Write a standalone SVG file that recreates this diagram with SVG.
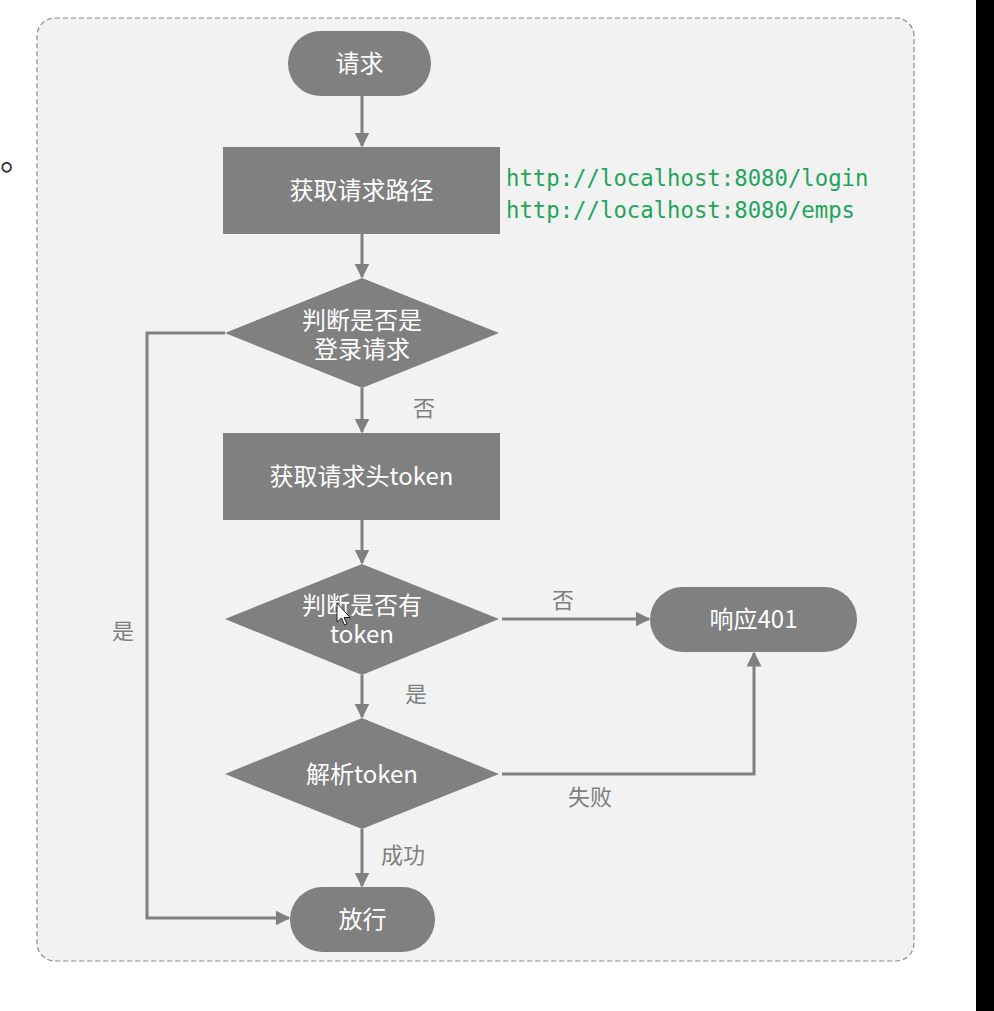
<svg xmlns="http://www.w3.org/2000/svg" width="994" height="1011" viewBox="0 0 994 1011">
<defs>
<style>
.node{fill:#808080}
.nt{fill:#ffffff;font-family:"Noto Sans CJK SC","Noto Sans",sans-serif;font-size:24px;text-anchor:middle;dominant-baseline:central}
.lbl{fill:#7f7f7f;font-family:"Noto Sans CJK SC","Noto Sans",sans-serif;font-size:22px;text-anchor:middle;dominant-baseline:central}
.url{fill:#1fa55a;font-family:"DejaVu Sans Mono","Liberation Mono",monospace;font-size:22.3px}
.edge{fill:none;stroke:#808080;stroke-width:3}
</style>
<marker id="arr" viewBox="0 0 10 10" refX="9" refY="5" markerWidth="5" markerHeight="5" markerUnits="strokeWidth" orient="auto">
<path d="M0,0 L10,5 L0,10 z" fill="#808080"/>
</marker>
</defs>
<rect x="0" y="0" width="994" height="1011" fill="#ffffff"/>
<rect x="976" y="0" width="18" height="1011" fill="#000000"/>
<text x="0" y="170" style="font-family:'Noto Sans CJK SC',sans-serif;font-size:34px;fill:#333">。</text>
<rect x="37" y="18" width="877" height="943" rx="18" ry="18" fill="#f2f2f2" stroke="#8a8a8a" stroke-width="1.2" stroke-dasharray="5,3"/>

<g id="connectors">
<line class="edge" x1="362" y1="96" x2="362" y2="146" marker-end="url(#arr)"/>
<line class="edge" x1="362" y1="234" x2="362" y2="277" marker-end="url(#arr)"/>
<line class="edge" x1="362" y1="388" x2="362" y2="432" marker-end="url(#arr)"/>
<line class="edge" x1="362" y1="520" x2="362" y2="563" marker-end="url(#arr)"/>
<line class="edge" x1="362" y1="675" x2="362" y2="717" marker-end="url(#arr)"/>
<line class="edge" x1="362" y1="829" x2="362" y2="886" marker-end="url(#arr)"/>
<polyline class="edge" points="225,333 147,333 147,918 289,918" marker-end="url(#arr)"/>
<line class="edge" x1="502" y1="619" x2="649" y2="619" marker-end="url(#arr)"/>
<polyline class="edge" points="502,774 754,774 754,653" marker-end="url(#arr)"/>
<text class="lbl" x="424" y="406">否</text>
<text class="lbl" x="123" y="629">是</text>
<text class="lbl" x="563" y="598">否</text>
<text class="lbl" x="416" y="692">是</text>
<text class="lbl" x="590" y="795">失败</text>
<text class="lbl" x="403" y="853">成功</text>
</g>

<g id="n-request">
<rect class="node" x="288" y="31" width="143" height="65" rx="32.5"/>
<text class="nt" x="359.5" y="61.5">请求</text>
</g>
<g id="n-path">
<rect class="node" x="223" y="147" width="277" height="87"/>
<text class="nt" x="361.5" y="188">获取请求路径</text>
</g>
<g id="n-urls">
<text class="url" x="506" y="186">http://localhost:8080/login</text>
<text class="url" x="506" y="218">http://localhost:8080/emps</text>
</g>
<g id="n-islogin">
<polygon class="node" points="362,278 499,333 362,388 225,333"/>
<text class="nt" x="362" y="318"><tspan x="362" y="318">判断是否是</tspan><tspan x="362" y="347">登录请求</tspan></text>
</g>
<g id="n-gettoken">
<rect class="node" x="223" y="433" width="277" height="87"/>
<text class="nt" x="361.5" y="474">获取请求头token</text>
</g>
<g id="n-hastoken">
<polygon class="node" points="362,564 499,619 362,675 225,619"/>
<text class="nt" x="362" y="603"><tspan x="362" y="603">判断是否有</tspan><tspan x="362" y="632">token</tspan></text>
</g>
<g id="n-parse">
<polygon class="node" points="362,718 499,774 362,829 225,774"/>
<text class="nt" x="362" y="772">解析token</text>
</g>
<g id="n-pass">
<rect class="node" x="290" y="887" width="145" height="65" rx="32.5"/>
<text class="nt" x="362.5" y="917">放行</text>
</g>
<g id="n-401">
<rect class="node" x="650" y="587" width="207" height="65" rx="32.5"/>
<text class="nt" x="753.5" y="617">响应401</text>
</g>
<path d="M337,603 L337,622 L341.5,618 L344.5,625 L347,624 L344,617.5 L350,617.5 Z" fill="#ffffff" stroke="#222" stroke-width="1"/>
</svg>
